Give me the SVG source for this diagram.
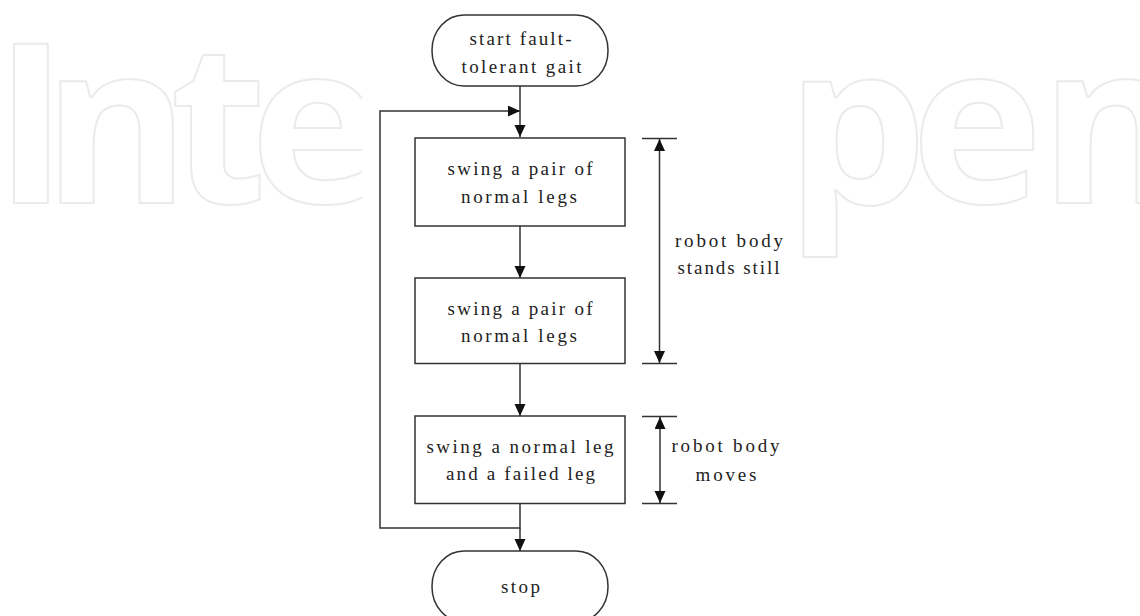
<svg xmlns="http://www.w3.org/2000/svg" width="1140" height="616" viewBox="0 0 1140 616">
<style>
.wm{font-family:"Open Sans",sans-serif;font-weight:700;font-size:223px;fill:#fff;stroke:#ebebeb;stroke-width:2}
.nd{fill:#fff;stroke:#333;stroke-width:1.5}
.ln{fill:none;stroke:#333;stroke-width:1.5}
.t{font-family:"Liberation Serif","Times New Roman",serif;font-size:19px;fill:#222}
</style>
<defs>
<marker id="ah" markerUnits="userSpaceOnUse" markerWidth="13" markerHeight="12" refX="12" refY="5.5" orient="auto-start-reverse">
<path d="M0,0 L12,5.5 L0,11 z" fill="#111"/>
</marker>
</defs>
<rect width="1140" height="616" fill="#fff"/>
<g id="watermark">
<text class="wm" x="-6 43 170 250" y="203">Inte</text>
<text class="wm" x="786 911 1040" y="203">pen</text>
<rect x="362" y="0" width="439" height="300" fill="#fff"/>
</g>
<g id="connectors">
<path class="ln" d="M520,86 V137" marker-end="url(#ah)"/>
<path class="ln" d="M520,503 V528 H380 V111 H520" marker-end="url(#ah)"/>
<path class="ln" d="M520,226 V278" marker-end="url(#ah)"/>
<path class="ln" d="M520,363 V416" marker-end="url(#ah)"/>
<path class="ln" d="M520,528 V551" marker-end="url(#ah)"/>
</g>
<g id="start">
<rect class="nd" x="432" y="15" width="176" height="71" rx="32" ry="35"/>
<text class="t" x="469.5" y="45" textLength="102" lengthAdjust="spacing">start fault-</text>
<text class="t" x="461.5" y="73" textLength="120" lengthAdjust="spacing">tolerant gait</text>
</g>
<g id="box1">
<rect class="nd" x="415" y="138" width="210" height="88"/>
<text class="t" x="447.5" y="175" textLength="145" lengthAdjust="spacing">swing a pair of</text>
<text class="t" x="461" y="202.5" textLength="116" lengthAdjust="spacing">normal legs</text>
</g>
<g id="box2">
<rect class="nd" x="415" y="278" width="210" height="85.5"/>
<text class="t" x="447.5" y="315" textLength="145" lengthAdjust="spacing">swing a pair of</text>
<text class="t" x="461" y="342" textLength="116" lengthAdjust="spacing">normal legs</text>
</g>
<g id="box3">
<rect class="nd" x="415" y="416" width="210" height="87.5"/>
<text class="t" x="426.5" y="452.5" textLength="187" lengthAdjust="spacing">swing a normal leg</text>
<text class="t" x="446" y="480" textLength="149" lengthAdjust="spacing">and a failed leg</text>
</g>
<g id="stop">
<rect class="nd" x="432" y="551" width="176" height="71" rx="32" ry="35"/>
<text class="t" x="501" y="593" textLength="39" lengthAdjust="spacing">stop</text>
</g>
<g id="dim1">
<path class="ln" d="M642,138.5 H677 M642,363.5 H677"/>
<path class="ln" d="M659.5,139 V363" marker-start="url(#ah)" marker-end="url(#ah)"/>
<text class="t" x="675" y="247" textLength="108" lengthAdjust="spacing">robot body</text>
<text class="t" x="677.5" y="274" textLength="102" lengthAdjust="spacing">stands still</text>
</g>
<g id="dim2">
<path class="ln" d="M642,416.5 H677 M642,503.5 H677"/>
<path class="ln" d="M660,417 V503" marker-start="url(#ah)" marker-end="url(#ah)"/>
<text class="t" x="671.5" y="452" textLength="108" lengthAdjust="spacing">robot body</text>
<text class="t" x="695.5" y="481" textLength="61" lengthAdjust="spacing">moves</text>
</g>
</svg>
